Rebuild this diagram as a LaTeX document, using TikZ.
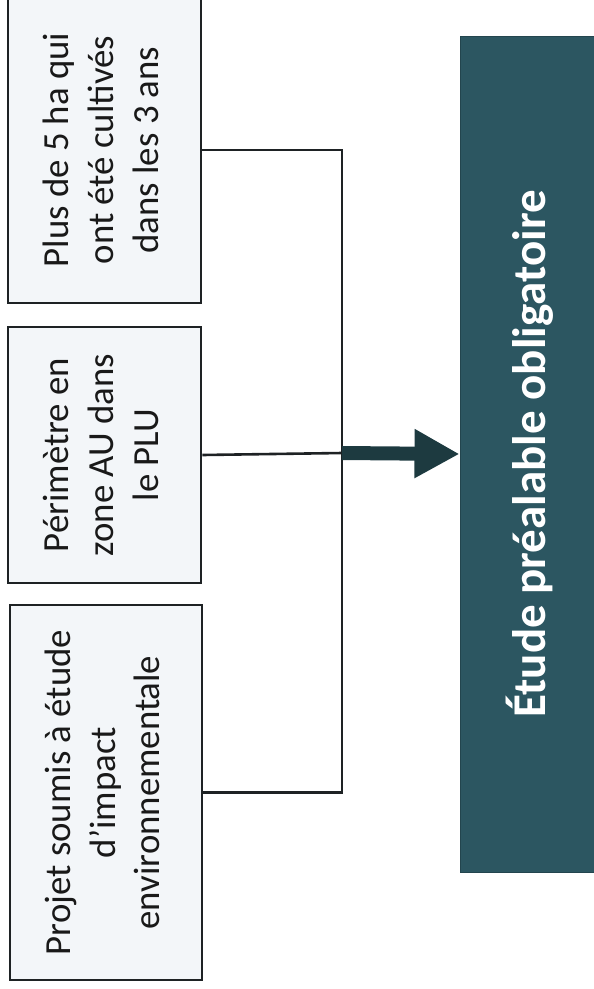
\documentclass[tikz,border=0pt]{standalone}
\usepackage{fontspec}
\setmainfont{Carlito}
\usetikzlibrary{arrows.meta}
\definecolor{boxfill}{HTML}{F3F6F9}
\definecolor{boxline}{HTML}{1E2224}
\definecolor{tealbox}{HTML}{2C5661}
\definecolor{arrowcol}{HTML}{1D3A40}
\tikzset{
  critbox/.style={draw=boxline, line width=2.6pt, fill=boxfill, inner sep=0pt, text=black!90},
  conn/.style={draw=boxline, line width=2.6pt},
  bigarrow/.style={draw=arrowcol, line width=14pt, -{Triangle[length=45pt,width=46pt]}, arrowcol},
  mainbox/.style={fill=tealbox, draw=tealbox!80!black, line width=1pt, inner sep=0pt, text=white}
}
\newcommand{\boxtxt}[1]{\rotatebox{90}{\fontsize{36.8}{45}\selectfont\begin{tabular}{@{}c@{}}#1\end{tabular}}}
\begin{document}
\begin{tikzpicture}[x=1pt,y=-1pt]
\useasboundingbox (0,0) rectangle (594,989);
\clip (0,0) rectangle (594,989);
\node[critbox, minimum width=193pt, minimum height=306pt] (b1) at (104.5,150)
  {\boxtxt{Plus de 5 ha qui\\ont été cultivés\\dans les 3 ans}};
\node[critbox, minimum width=193pt, minimum height=256pt] (b2) at (104.5,455)
  {\boxtxt{Périmètre en\\zone AU dans\\le PLU}};
\node[critbox, minimum width=192pt, minimum height=375pt] (b3) at (106,792.5)
  {\boxtxt{Projet soumis à étude\\d’impact\\environnementale}};
\node[mainbox, minimum width=140pt, minimum height=836pt] (main) at (530,454)
  {\rotatebox{90}{\fontsize{47}{56}\selectfont\bfseries Étude préalable obligatoire}};
\coordinate (j) at (342,453);
\draw[conn] (b1.east) -| (j);
\draw[conn] (b3.east) -| (j);
\draw[conn] (b2.east) -- (j);
\draw[bigarrow] (j) -- (main.west);
\end{tikzpicture}
\end{document}
